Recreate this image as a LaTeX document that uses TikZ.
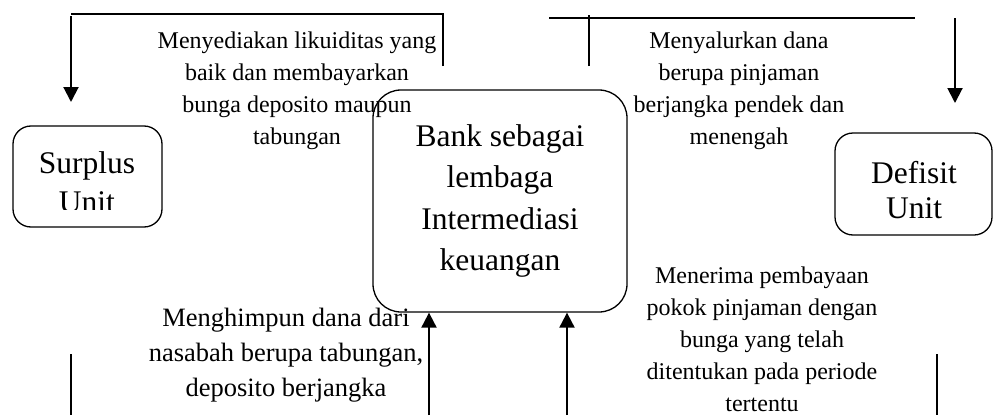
\documentclass[tikz,border=0pt]{standalone}
\usepackage{fontspec}
\setmainfont{Liberation Serif}
\usetikzlibrary{arrows.meta}

\tikzset{
  unitbox/.style={draw, line width=1.3pt, rounded corners=18pt, inner sep=0pt},
  bankbox/.style={draw, line width=1.3pt, rounded corners=28pt, inner sep=0pt, align=center,
    font=\fontsize{31.5}{41.5}\selectfont},
  unittext/.style={align=center, inner sep=0pt, font=\fontsize{31.5}{39}\selectfont},
  note/.style={align=center, inner sep=0pt, font=\fontsize{24}{32}\selectfont},
  flowline/.style={line width=1.2pt},
  flowarrow/.style={line width=2pt, -{Triangle[length=15pt,width=15pt]}},
}

\begin{document}
\begin{tikzpicture}[x=1pt,y=-1pt]
  \useasboundingbox (0,0) rectangle (993,415);

  %BOXES
  \node[unitbox, minimum width=149pt, minimum height=101pt] (surplus) at (87.5,176.5) {};
  \begin{scope}
    \clip (0,0) rectangle (993,209);	% "Unit" is cut off at the bottom
    \node[unittext] (surplustext) at (87,182.5) {Surplus\\Unit};
  \end{scope}
  \node[bankbox, minimum width=254pt, minimum height=222pt] (bank) at (500,201)
    {Bank sebagai\\lembaga\\Intermediasi\\keuangan};
  \node[unitbox, minimum width=157pt, minimum height=102pt] (defisit) at (913.5,184) {};
  \node[unittext, font=\fontsize{31.5}{35}\selectfont] (defisittext) at (914,190.5) {Defisit\\Unit};

  %LABELS
  \node[note] (provide) at (297,90.5) {Menyediakan likuiditas yang\\baik dan membayarkan\\bunga deposito maupun\\tabungan};
  \node[note] (channel) at (739,90.5) {Menyalurkan dana\\berupa pinjaman\\berjangka pendek dan\\menengah};
  \node[note, font=\fontsize{26.5}{35}\selectfont] (collect) at (286,355) {Menghimpun dana dari\\nasabah berupa tabungan,\\deposito berjangka};
  \node[note] (repay) at (762,339.5) {Menerima pembayaan\\pokok pinjaman dengan\\bunga yang telah\\ditentukan pada periode\\tertentu};

  %CONNECTOR ENDS
  \coordinate (provideA) at (443,66);	\coordinate (provideB) at (71,14);
  \coordinate (provideC) at (71,16);	\coordinate (provideD) at (71,102);
  \coordinate (chanA) at (589,66);	\coordinate (chanB) at (589,15);
  \coordinate (chanL) at (549,18);	\coordinate (chanR) at (915,18);
  \coordinate (chanC) at (955,18);	\coordinate (chanD) at (955,103);
  \coordinate (collA) at (71,354);	\coordinate (collB) at (71,415);
  \coordinate (collC) at (429,415);
  \coordinate (repA) at (937,354);	\coordinate (repB) at (937,415);
  \coordinate (repC) at (567,415);

  %TOP
  \draw[flowline] (provideA) |- (provideB);
  \draw[flowarrow] (provideC) -- (provideD);
  \draw[flowline] (chanA) -- (chanB);
  \draw[flowline] (chanL) -- (chanR);
  \draw[flowarrow] (chanC) -- (chanD);

  %BOTTOM
  \draw[flowline] (collA) -- (collB);
  \draw[flowarrow] (collC) -- (collC |- bank.south);
  \draw[flowline] (repA) -- (repB);
  \draw[flowarrow] (repC) -- (repC |- bank.south);
\end{tikzpicture}
\end{document}
